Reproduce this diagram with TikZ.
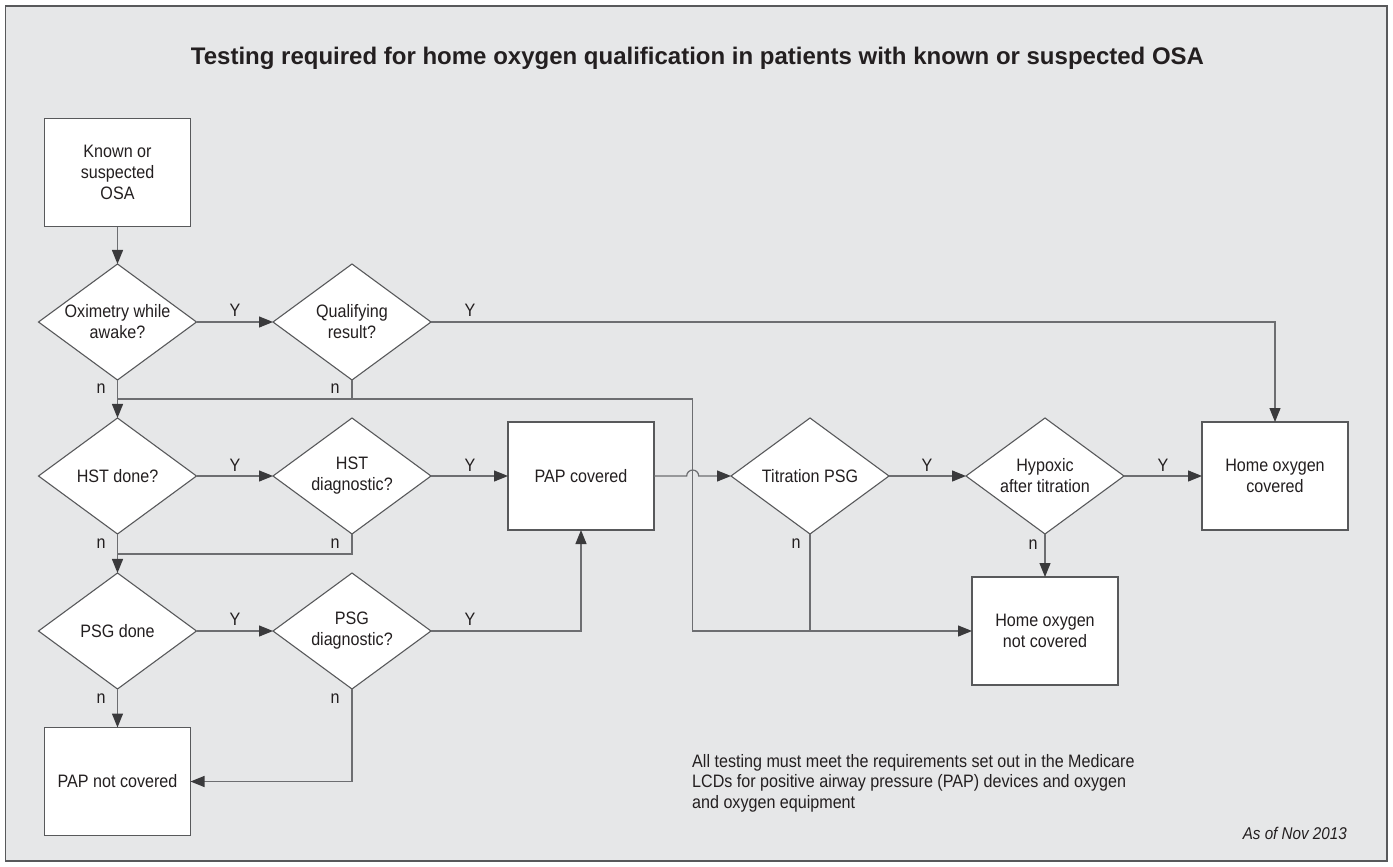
\documentclass[tikz,border=0pt]{standalone}
\usepackage{fontspec}
\setmainfont{Liberation Sans}
\newfontfamily\condf[FakeStretch=0.895]{Liberation Sans}
\usetikzlibrary{shapes.geometric,arrows.meta}
\definecolor{bgc}{HTML}{E6E7E8}
\definecolor{linec}{HTML}{6D6E71}
\definecolor{edgec}{HTML}{58595B}
\definecolor{txtc}{HTML}{231F20}
\definecolor{tipc}{HTML}{3A3A3C}
\tikzset{
  box/.style={draw=edgec, fill=white, line width=1.1pt, minimum width=146pt, minimum height=108pt,
    inner sep=0pt, outer sep=0pt, align=center, font=\condf\fontsize{18}{21}\selectfont, text=txtc},
  dia/.style={diamond, aspect=1.362, draw=edgec, fill=white, line width=1.1pt, minimum width=158pt,
    minimum height=116pt, inner sep=0pt, outer sep=0pt, align=center,
    font=\condf\fontsize{18}{21}\selectfont, text=txtc},
  conn/.style={draw=linec, line width=1.2pt},
  arr/.style={conn, -{Triangle[length=14pt,width=11pt,color=tipc]}},
  lab/.style={font=\condf\fontsize{18}{21}\selectfont, text=txtc, inner sep=0pt}
}
\begin{document}
\begin{tikzpicture}[x=1pt,y=-1pt]
\useasboundingbox (0,0) rectangle (1393,867);
\fill[white] (0,0) rectangle (1393,867);
\filldraw[fill=bgc, draw=edgec, line width=1.5pt] (5.5,6) rectangle (1387,861);

\node[font=\bfseries\fontsize{24}{28}\selectfont, text=txtc, anchor=base] (title) at (697.5,65)
  {Testing required for home oxygen qualification in patients with known or suspected OSA};

\node[box] (known) at (117.5,172.5) {Known or\\suspected\\OSA};
\node[dia] (ox) at (117.5,322) {Oximetry while\\awake?};
\node[dia] (qual) at (352,322) {Qualifying\\result?};
\node[dia] (hst) at (117.5,476) {HST done?};
\node[dia] (hstd) at (352,476) {HST\\diagnostic?};
\node[box] (pap) at (581,476) {PAP covered};
\node[dia] (tit) at (810,476) {Titration PSG};
\node[dia] (hyp) at (1045,476) {Hypoxic\\after titration};
\node[box] (hoc) at (1275,476) {Home oxygen\\covered};
\node[box] (hnc) at (1045,631) {Home oxygen\\not covered};
\node[dia] (psg) at (117.5,631) {PSG done};
\node[dia] (psgd) at (352,631) {PSG\\diagnostic?};
\node[box] (papn) at (117.5,781.5) {PAP not covered};

\coordinate (nA) at (117.5,399);
\coordinate (nB) at (692.7,399);
\coordinate (nC) at (692.7,631);
\coordinate (nD) at (117.5,554);
\coordinate (hop) at (686.7,476);

\draw[arr] (known) -- (ox);
\draw[arr] (ox) -- (qual);
\draw[arr] (qual.east) -| (hoc.north);
\draw[arr] (ox) -- (hst);
\draw[conn] (qual.south) -- (qual.south |- nA);
\draw[arr] (nA) -- (nB) -- (nC) -- (hnc.west);
\draw[conn] (tit.south) -- (tit.south |- nC);
\draw[arr] (hst) -- (hstd);
\draw[arr] (hstd) -- (pap);
\draw[arr] (hst) -- (psg);
\draw[conn] (hstd.south) |- (nD);
\draw[arr] (pap.east) -- (hop) arc[start angle=180, end angle=0, radius=6pt] -- (tit.west);
\draw[arr] (tit) -- (hyp);
\draw[arr] (hyp) -- (hoc);
\draw[arr] (hyp) -- (hnc);
\draw[arr] (psg) -- (psgd);
\draw[arr] (psgd.east) -| (pap.south);
\draw[arr] (psg) -- (papn);
\draw[arr] (psgd.south) |- (papn.east);

\node[lab] (y1) at (235,310) {Y};
\node[lab] (y2) at (470,310) {Y};
\node[lab] (y3) at (235,465) {Y};
\node[lab] (y4) at (470,465) {Y};
\node[lab] (y5) at (927,465) {Y};
\node[lab] (y6) at (1163,465) {Y};
\node[lab] (y7) at (235,619) {Y};
\node[lab] (y8) at (470,619) {Y};
\node[lab] (n1) at (101,389) {n};
\node[lab] (n2) at (335,389) {n};
\node[lab] (n3) at (101,544) {n};
\node[lab] (n4) at (335,544) {n};
\node[lab] (n5) at (796,544) {n};
\node[lab] (n6) at (1033,545) {n};
\node[lab] (n7) at (101,699) {n};
\node[lab] (n8) at (335,699) {n};

\node[font=\condf\fontsize{18}{20.5}\selectfont, text=txtc, align=left, anchor=north west, inner sep=0pt] (note) at (692,754)
  {All testing must meet the requirements set out in the Medicare\\LCDs for positive airway pressure (PAP) devices and oxygen\\and oxygen equipment};
\node[font=\condf\itshape\fontsize{17}{20}\selectfont, text=txtc, anchor=base east, inner sep=0pt] (asof) at (1347,839) {As of Nov 2013};
\end{tikzpicture}
\end{document}
